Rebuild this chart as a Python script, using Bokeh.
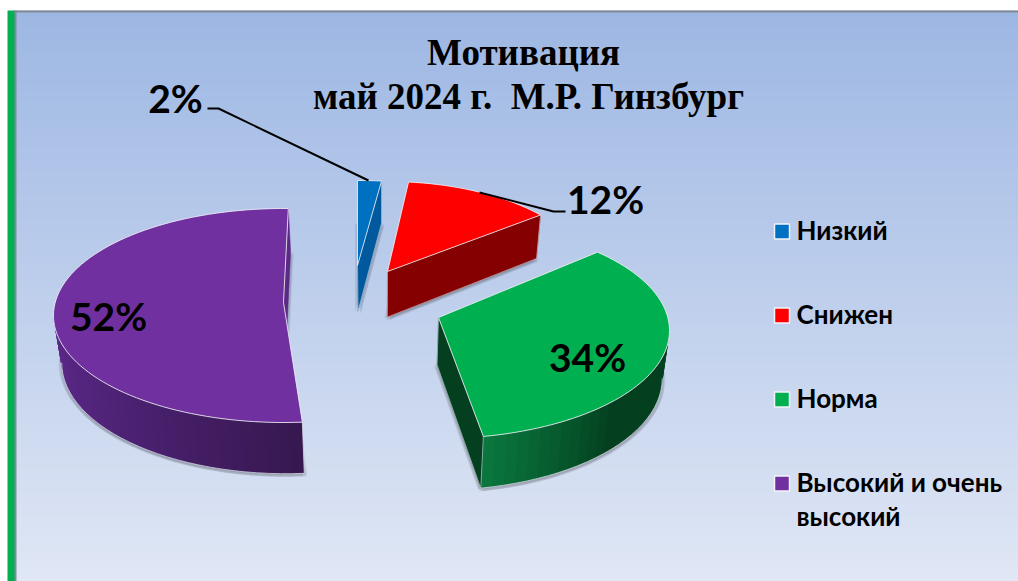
import math
from bokeh.plotting import figure
from bokeh.core.properties import value
from bokeh.embed import file_html
from bokeh.resources import INLINE

# --- data
categories = ["Низкий", "Снижен", "Норма", "Высокий и очень", "высокий"]
values = [2, 12, 34, 52]
title_lines = ["Мотивация", "май 2024 г.\u00a0\u00a0М.Р. Гинзбург"]

# --- styles
top_colors = ["#0070c0", "#ff0000", "#00b050", "#7030a0"]
face_colors = ["#00599d", "#850000", "#04401f", "#5c2a85"]
rim_start = ["#00599d", "#850000", "#0a7a40", "#5f2a8c"]
rim_mid = ["#00599d", "#850000", "#04401f", "#4c2274"]
rim_end = ["#00599d", "#850000", "#04401f", "#381850"]
centers = [(357, 275), (387, 281), (438, 330), (283, 315)]
apex_up = [10, 10, 13, 13]
radii = [(230, 95), (205, 100), (231, 108), (230, 107)]
# the perspective of the picture moves the slice edges a little off their true angles
start_adj = [0.0, -1.3, -6.9, 2.5]
end_adj = [-1.2, -2.1, -4.0, 1.2]
label_pos = [(175, 97), (605, 198), (587, 356), (108, 315)]
legend_y = [229, 313, 397, 481]

W, H = 1018, 581
p = figure(width=W, height=H, x_range=(0, W), y_range=(H, 0),
           output_backend="svg", toolbar_location=None, min_border=0,
           x_axis_type="linear", y_axis_type="linear")
p.axis.visible = False
p.grid.visible = False
p.outline_line_color = None
p.background_fill_color = "white"
p.border_fill_color = "white"


def mix(a, b, t):
    ca = [int(a[i:i + 2], 16) for i in (1, 3, 5)]
    cb = [int(b[i:i + 2], 16) for i in (1, 3, 5)]
    return "#%02x%02x%02x" % tuple(round(x + (y - x) * t) for x, y in zip(ca, cb))


# background gradient (strips overlap, so that no seams show)
ys = list(range(10, H, 2))
grad = [mix("#9db7e3", "#e0e7f5", (y - 10) / 571) for y in ys]
p.quad(left=14, right=W, top=ys, bottom=[min(y + 4, H) for y in ys],
       fill_color=grad, line_color=None)
p.quad(left=[7], right=[14.5], top=[10], bottom=[H], fill_color="#00b050", line_color=None)
p.line([15, 15], [10, H], line_color="#808a9c", line_width=2)
p.line([14, W], [11, 11], line_color="#808a96", line_width=2)


def depth(x, y):
    return (380 - x) * 0.025, 43 + (y - 200) * 0.037


def down(pt):
    dx, dy = depth(*pt)
    return (pt[0] + dx, pt[1] + dy)


def rim_pt(i, deg):
    cx, cy = centers[i]
    rx, ry = radii[i]
    t = math.radians(deg)
    return (cx + rx * math.sin(t), cy - ry * math.cos(t))


slices = []
acc = 0.0
for i, v in enumerate(values):
    a0 = acc * 3.6 + start_adj[i]
    a1 = (acc + v) * 3.6 + end_adj[i]
    acc += v
    n = max(4, int((a1 - a0) / 2))
    arc = [rim_pt(i, a0 + (a1 - a0) * k / n) for k in range(n + 1)]
    apex = (centers[i][0], centers[i][1] - apex_up[i])
    slices.append((a0, a1, arc, apex))


def patch(pts, **kw):
    p.patch([q[0] for q in pts], [q[1] for q in pts], **kw)


order = [3, 0, 1, 2]
# soft shadows
for i in order:
    a0, a1, arc, apex = slices[i]
    base = [down(apex)] + [down(q) for q in arc]
    for ox, oy, al in [(-3, 1, 0.16), (-1, 3, 0.18), (2, 3, 0.18), (3, 1, 0.12)]:
        patch([(q[0] + ox, q[1] + oy) for q in base], fill_color="#50555f",
              fill_alpha=al, line_color=None)

for i in order:
    a0, a1, arc, apex = slices[i]
    # radial face at slice end
    last = arc[-1]
    patch([apex, last, down(last), down(apex)], fill_color=face_colors[i], line_color=face_colors[i], line_width=0.5)
    # outer rim
    lo, hi = max(a0, 90), min(a1, 270)
    if hi > lo:
        steps = int((hi - lo) / 3)
        for k in range(steps):
            d0 = lo + (hi - lo) * k / steps
            d1 = lo + (hi - lo) * (k + 2) / steps if k < steps - 1 else hi
            f = (d0 - lo) / (hi - lo)
            f = f if i == 3 else 1 - f
            if i == 3:
                f = 1 - f
            if i == 2:
                f = 1 - (d0 - lo) / (hi - lo)
            c = mix(rim_start[i], rim_mid[i], f * 2) if f < 0.5 else mix(rim_mid[i], rim_end[i], f * 2 - 1)
            mid = [rim_pt(i, d0 + (d1 - d0) * m / 4) for m in range(5)]
            patch(mid + [down(q) for q in reversed(mid)], fill_color=c, line_color=None)
        low = [down(rim_pt(i, lo + (hi - lo) * k / steps)) for k in range(steps + 1)]
        p.line([q[0] for q in low], [q[1] for q in low], line_color="#d8dde6", line_width=1, line_alpha=0.8)
    # vertical edges and lower radial edge
    if i in (0, 1, 2):
        p.line([apex[0], down(apex)[0], down(last)[0]], [apex[1], down(apex)[1], down(last)[1]],
               line_color="#d8dde6", line_width=0.8, line_alpha=0.7)
        p.line([last[0], down(last)[0]], [last[1], down(last)[1]], line_color="#d8dde6", line_width=0.8, line_alpha=0.7)
    else:
        first = arc[0]
        p.line([first[0], down(first)[0]], [first[1], down(first)[1]], line_color="#d8dde6", line_width=1, line_alpha=0.8)
    # top face
    outline = [apex] + arc
    patch(outline, fill_color=top_colors[i], line_color="#eef0f6", line_width=1, line_alpha=0.85)

# leader lines
p.line([207, 218, 368], [108, 108, 180], line_color="black", line_width=2)
p.line([479, 553, 565], [192, 211, 211], line_color="black", line_width=2)

# value labels
p.text([q[0] for q in label_pos], [q[1] for q in label_pos], text=[f"{v}%" for v in values],
       text_font=value("Lato"), text_font_style="bold", text_font_size="39px",
       text_color="black", text_align="center", text_baseline="middle")

# title
p.text([523], [52], text=[title_lines[0]], text_font=value("Liberation Serif"), text_font_style="bold",
       text_font_size="37px", text_color="black", text_align="center", text_baseline="middle")
p.text([528], [96], text=[title_lines[1]], text_font=value("Liberation Serif"), text_font_style="bold",
       text_font_size="37px", text_color="black", text_align="center", text_baseline="middle")

# legend
p.quad(left=[774] * 4, right=[789] * 4, top=[y + 2 - 7.5 for y in legend_y], bottom=[y + 2 + 7.5 for y in legend_y],
       fill_color=top_colors, line_color="#f2f4fa", line_width=1.5)
p.text([796] * 4, legend_y, text=categories[:4], text_font=value("Lato"), text_font_style="bold",
       text_font_size="26px", text_color="black", text_align="left", text_baseline="middle")
p.text([796], [515], text=[categories[4]], text_font=value("Lato"), text_font_style="bold",
       text_font_size="26px", text_color="black", text_align="left", text_baseline="middle")

open("out.html", "w").write(file_html(p, INLINE))
